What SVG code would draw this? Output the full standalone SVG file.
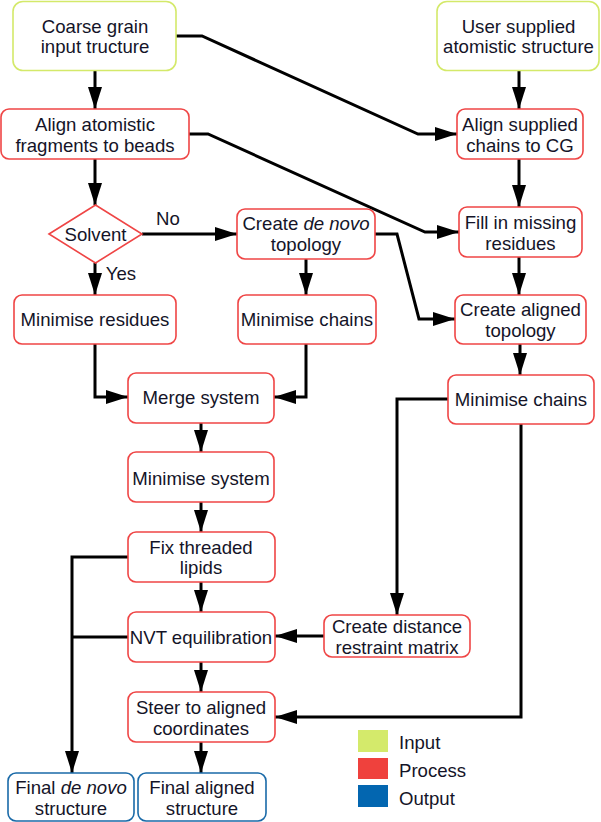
<svg xmlns="http://www.w3.org/2000/svg" width="601" height="822" viewBox="0 0 601 822">
<style>
text{font-family:"Liberation Sans",Arial,sans-serif;font-size:18.6px;fill:#141428;text-anchor:middle}
.in{fill:#fff;stroke:#d4e96a;stroke-width:1.6}
.pr{fill:#fff;stroke:#ef4545;stroke-width:1.6}
.out{fill:#fff;stroke:#1a6aa8;stroke-width:1.6}
.c path{fill:none;stroke:#000;stroke-width:3;marker-end:url(#ah)}
.c path.n{marker-end:none}
.lg{text-anchor:start}
</style>
<defs>
<marker id="ah" markerUnits="userSpaceOnUse" markerWidth="24" markerHeight="14" refX="22" refY="7" orient="auto">
<path d="M0,0 L22,7 L0,14 z" fill="#000"/>
</marker>
</defs>
<rect width="601" height="822" fill="#fff"/>
<g class="c" id="connectors">
<path d="M95,71 V109"/>
<path d="M95,159 V205"/>
<path d="M95,263 V295"/>
<path d="M142,234 H237"/>
<path d="M176,36 H202 L418,134 H457"/>
<path d="M189,134 H208 L425,232 H459"/>
<path d="M519,71 V109"/>
<path d="M519,159 V207"/>
<path d="M519,257 V295"/>
<path d="M375,234 H397 L419,319 H455"/>
<path d="M306,259 V295"/>
<path d="M520,344 V375"/>
<path d="M95,344 V397 H128"/>
<path d="M306,344 V397 H274"/>
<path d="M201,423 V452"/>
<path d="M201,502 V532"/>
<path d="M201,582 V612"/>
<path d="M201,662 V692"/>
<path d="M201,742 V773"/>
<path d="M448,399 H397 V615"/>
<path d="M324,636 H275"/>
<path d="M521,424 V717 H275"/>
<path d="M128,557 H72 V773"/>
<path class="n" d="M128,637 H72"/>
</g>
<g id="coarse"><rect class="in" x="13" y="1.5" width="163" height="69" rx="10"/><text x="95" y="32.5">Coarse grain</text><text x="95" y="52.5">input tructure</text></g>
<g id="user"><rect class="in" x="437" y="1.5" width="162" height="69" rx="10"/><text x="518.5" y="32.5">User supplied</text><text x="518.5" y="52.5">atomistic structure</text></g>
<g id="alignAtom"><rect class="pr" x="1" y="109" width="188" height="50" rx="8"/><text x="95" y="130.5">Align atomistic</text><text x="95" y="151.5">fragments to beads</text></g>
<g id="alignSup"><rect class="pr" x="457" y="109" width="126" height="50" rx="8"/><text x="520" y="130.5">Align supplied</text><text x="520" y="151.5">chains to CG</text></g>
<g id="solvent"><polygon class="pr" points="49,234 95.5,205 142,234 95.5,263"/><text x="95.5" y="241">Solvent</text></g>
<text x="168" y="225">No</text>
<text x="121" y="280">Yes</text>
<g id="createDeNovo"><rect class="pr" x="237" y="209" width="138" height="50" rx="8"/><text x="306" y="230">Create <tspan font-style="italic">de novo</tspan></text><text x="306" y="250.5">topology</text></g>
<g id="fill"><rect class="pr" x="459" y="207" width="123" height="50" rx="8"/><text x="520.5" y="228.5">Fill in missing</text><text x="520.5" y="249.5">residues</text></g>
<g id="minRes"><rect class="pr" x="14" y="295" width="162" height="49" rx="8"/><text x="95" y="326">Minimise residues</text></g>
<g id="minChainsMid"><rect class="pr" x="238" y="295" width="138" height="49" rx="8"/><text x="307" y="326">Minimise chains</text></g>
<g id="createAligned"><rect class="pr" x="455" y="295" width="131" height="49" rx="8"/><text x="520.5" y="315.5">Create aligned</text><text x="520.5" y="336.5">topology</text></g>
<g id="merge"><rect class="pr" x="128" y="373" width="146" height="50" rx="8"/><text x="201" y="404">Merge system</text></g>
<g id="minChainsRight"><rect class="pr" x="448" y="375" width="146" height="49" rx="8"/><text x="521" y="406">Minimise chains</text></g>
<g id="minSys"><rect class="pr" x="128" y="452" width="146" height="50" rx="8"/><text x="201" y="484.5">Minimise system</text></g>
<g id="fix"><rect class="pr" x="128" y="532" width="147" height="50" rx="8"/><text x="201" y="553.5">Fix threaded</text><text x="201" y="573.5">lipids</text></g>
<g id="createDist"><rect class="pr" x="324" y="615" width="146" height="42" rx="8"/><text x="397" y="632.5">Create distance</text><text x="397" y="653.5">restraint matrix</text></g>
<g id="nvt"><rect class="pr" x="128" y="612" width="147" height="50" rx="8"/><text x="201" y="643.5">NVT equilibration</text></g>
<g id="steer"><rect class="pr" x="128" y="692" width="147" height="50" rx="8"/><text x="201" y="713.5">Steer to aligned</text><text x="201" y="734.5">coordinates</text></g>
<g id="finalDeNovo"><rect class="out" x="8" y="773" width="126" height="48" rx="8"/><text x="71" y="793.5">Final <tspan font-style="italic">de novo</tspan></text><text x="71" y="814.5">structure</text></g>
<g id="finalAligned"><rect class="out" x="138" y="773" width="128" height="48" rx="8"/><text x="202" y="793.5">Final aligned</text><text x="202" y="814.5">structure</text></g>
<g id="legend">
<rect x="358" y="730" width="30" height="22" fill="#d4ea6b"/>
<rect x="358" y="758" width="30" height="21" fill="#ef413d"/>
<rect x="358" y="785" width="30" height="22" fill="#0366b0"/>
<text class="lg" x="399" y="748.5">Input</text>
<text class="lg" x="399" y="776.5">Process</text>
<text class="lg" x="399" y="804.5">Output</text>
</g>
</svg>
